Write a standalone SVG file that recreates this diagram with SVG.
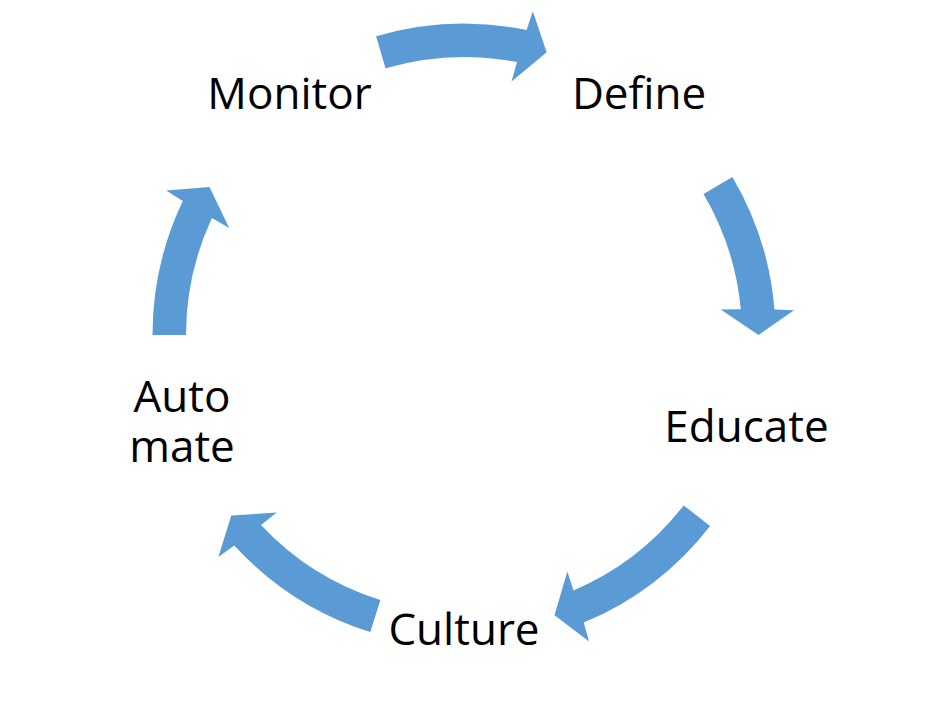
<svg xmlns="http://www.w3.org/2000/svg" width="929" height="722" viewBox="0 0 929 722">
<style>
.arrow{fill:#5B9BD5;stroke:none}
.lbl{font-family:"Open Sans","Liberation Sans",sans-serif;font-size:44px;fill:#000;text-anchor:middle}
</style>
<rect width="929" height="722" fill="#fff"/>
<g id="connectors">
<path class="arrow" d="M376.1 36.2 A311.5 311.5 0 0 1 526.6 29.9 L532.8 11.2 L546.7 52.3 L511.5 81.4 L517.0 62.1 A278 278 0 0 0 385.5 68.3 Z"/>
<path class="arrow" d="M732.4 176.9 A311.5 311.5 0 0 1 774.5 309.5 L794.1 310.2 L758.5 335 L720.7 309.4 L740.8 309.3 A278 278 0 0 0 703.5 193.9 Z"/>
<path class="arrow" d="M710.1 525.9 A311.5 311.5 0 0 1 583.7 622.6 L589.1 641.5 L554.5 615.2 L567.3 571.4 L573.5 590.5 A278 278 0 0 0 683.7 505.4 Z"/>
<path class="arrow" d="M370.3 632.1 A311.5 311.5 0 0 1 234.3 545.4 L218.4 556.9 L231.3 515.5 L276.8 512.6 L261.0 525.0 A278 278 0 0 0 380.4 600.1 Z"/>
<path class="arrow" d="M152.5 335 A311.5 311.5 0 0 1 182.8 200.9 L166.2 190.4 L209.5 186.9 L229.2 228.0 L211.9 218.0 A278 278 0 0 0 186 335 Z"/>
</g>
<g id="node-define"><text class="lbl" x="639" y="109">Define</text></g>
<g id="node-educate"><text class="lbl" x="746.5" y="442">Educate</text></g>
<g id="node-culture"><text class="lbl" x="464" y="645">Culture</text></g>
<g id="node-automate"><text class="lbl" x="182" y="412"><tspan x="182" y="412">Auto</tspan><tspan x="182" y="462">mate</tspan></text></g>
<g id="node-monitor"><text class="lbl" x="289.5" y="109">Monitor</text></g>
</svg>
